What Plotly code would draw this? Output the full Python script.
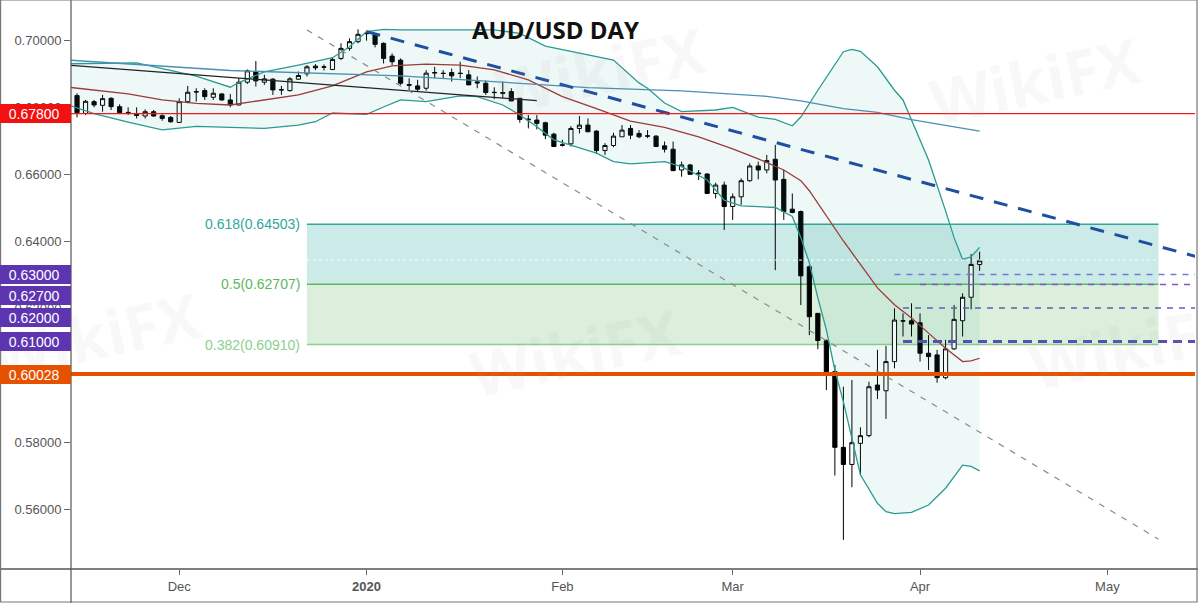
import pandas as pd
import plotly.graph_objects as go

# daily candles, AUD/USD
dates = pd.bdate_range("2019-11-14", "2020-04-10")
opens = [0.6834, 0.6781, 0.6816, 0.6805, 0.6826, 0.6801, 0.6784, 0.6778, 0.6773, 0.6786, 0.6774, 0.6769,
         0.6754, 0.6816, 0.6846, 0.6849, 0.6829, 0.6839, 0.6821, 0.6806, 0.6874, 0.6906, 0.6874, 0.6883,
         0.6852, 0.6849, 0.6883, 0.6899, 0.6922, 0.6920, 0.6912, 0.6945, 0.6975, 0.6995,
         0.7020, 0.7017, 0.6990, 0.6952, 0.6940, 0.6867, 0.6863, 0.6856, 0.6901, 0.6901, 0.6903, 0.6901,
         0.6896, 0.6875, 0.6871, 0.6844, 0.6843, 0.6846, 0.6826, 0.6764, 0.6761, 0.6753, 0.6719,
         0.6687, 0.6690, 0.6736, 0.6746, 0.6728, 0.6670, 0.6685, 0.6711, 0.6736, 0.6721, 0.6714, 0.6713,
         0.6684, 0.6674, 0.6612, 0.6627, 0.6603, 0.6600, 0.6542, 0.6567,
         0.6503, 0.6532, 0.6580, 0.6624, 0.6612, 0.6644, 0.6584, 0.6495, 0.6488, 0.6323, 0.6184, 0.6102,
         0.6010, 0.5784, 0.5733, 0.5796, 0.5819, 0.5970, 0.5953, 0.6040, 0.6162, 0.6162,
         0.6156, 0.6065, 0.6060, 0.5992, 0.6078, 0.6162, 0.6232, 0.6330]
highs = [0.6841, 0.6821, 0.6821, 0.6836, 0.6829, 0.6808, 0.6799, 0.6799, 0.6793, 0.6791, 0.6778, 0.6773,
         0.6826, 0.6863, 0.6856, 0.6856, 0.6856, 0.6841, 0.6839, 0.6886, 0.6912, 0.6937, 0.6896, 0.6886,
         0.6863, 0.6889, 0.6906, 0.6925, 0.6928, 0.6927, 0.6948, 0.6990, 0.7005, 0.7032,
         0.7028, 0.7020, 0.6993, 0.6960, 0.6945, 0.6886, 0.6881, 0.6910, 0.6920, 0.6910, 0.6915, 0.6935,
         0.6910, 0.6891, 0.6879, 0.6859, 0.6876, 0.6856, 0.6826, 0.6776, 0.6776, 0.6756, 0.6723,
         0.6702, 0.6743, 0.6773, 0.6766, 0.6731, 0.6692, 0.6723, 0.6746, 0.6746, 0.6731, 0.6731, 0.6716,
         0.6697, 0.6697, 0.6637, 0.6630, 0.6612, 0.6602, 0.6574, 0.6577,
         0.6542, 0.6587, 0.6632, 0.6637, 0.6657, 0.6687, 0.6612, 0.6542, 0.6491, 0.6328, 0.6184, 0.6106,
         0.6030, 0.5965, 0.5985, 0.5844, 0.5980, 0.6075, 0.6087, 0.6199, 0.6184, 0.6214,
         0.6184, 0.6119, 0.6075, 0.6105, 0.6209, 0.6244, 0.6361, 0.6368]
lows = [0.6769, 0.6776, 0.6799, 0.6786, 0.6791, 0.6779, 0.6776, 0.6766, 0.6766, 0.6771, 0.6759, 0.6753,
        0.6753, 0.6811, 0.6816, 0.6821, 0.6821, 0.6819, 0.6799, 0.6805, 0.6869, 0.6861, 0.6866, 0.6836,
        0.6836, 0.6846, 0.6881, 0.6891, 0.6910, 0.6909, 0.6910, 0.6940, 0.6968, 0.6990,
        0.6998, 0.6978, 0.6930, 0.6925, 0.6866, 0.6849, 0.6846, 0.6849, 0.6886, 0.6886, 0.6876, 0.6886,
        0.6866, 0.6856, 0.6836, 0.6823, 0.6826, 0.6818, 0.6753, 0.6736, 0.6733, 0.6704, 0.6682,
        0.6682, 0.6682, 0.6721, 0.6726, 0.6660, 0.6657, 0.6680, 0.6711, 0.6704, 0.6707, 0.6707, 0.6682,
        0.6664, 0.6610, 0.6592, 0.6599, 0.6582, 0.6542, 0.6527, 0.6433,
        0.6463, 0.6508, 0.6577, 0.6584, 0.6602, 0.6313, 0.6463, 0.6483, 0.6209, 0.6119, 0.6077, 0.5955,
        0.5700, 0.5508, 0.5665, 0.5700, 0.5814, 0.5928, 0.5869, 0.6020, 0.6115, 0.6115,
        0.6040, 0.6015, 0.5977, 0.5987, 0.6075, 0.6115, 0.6196, 0.6311]
closes = [0.6783, 0.6817, 0.6806, 0.6825, 0.6801, 0.6783, 0.6783, 0.6775, 0.6786, 0.6773, 0.6766, 0.6756,
          0.6816, 0.6844, 0.6845, 0.6831, 0.6841, 0.6821, 0.6806, 0.6874, 0.6908, 0.6878, 0.6884, 0.6851,
          0.6851, 0.6884, 0.6894, 0.6920, 0.6917, 0.6919, 0.6942, 0.6975, 0.6995, 0.7017,
          0.7019, 0.6987, 0.6945, 0.6935, 0.6871, 0.6865, 0.6853, 0.6901, 0.6903, 0.6900, 0.6893, 0.6900,
          0.6866, 0.6872, 0.6843, 0.6843, 0.6841, 0.6818, 0.6763, 0.6762, 0.6751, 0.6716, 0.6682,
          0.6686, 0.6736, 0.6746, 0.6726, 0.6670, 0.6685, 0.6713, 0.6731, 0.6716, 0.6711, 0.6713, 0.6682,
          0.6674, 0.6610, 0.6627, 0.6599, 0.6601, 0.6542, 0.6567, 0.6503,
          0.6532, 0.6580, 0.6624, 0.6612, 0.6640, 0.6582, 0.6488, 0.6485, 0.6296, 0.6174, 0.6103, 0.6010,
          0.5784, 0.5733, 0.5798, 0.5819, 0.5965, 0.5955, 0.6040, 0.6164, 0.6161, 0.6152,
          0.6065, 0.6055, 0.5992, 0.6078, 0.6166, 0.6232, 0.6330, 0.6341]

# bollinger bands
upper_dates = ["2019-11-13", "2019-11-25", "2019-12-04", "2019-12-10", "2019-12-11", "2019-12-16",
               "2019-12-20", "2019-12-26", "2019-12-30", "2020-01-01", "2020-01-03", "2020-01-07",
               "2020-01-22", "2020-01-27", "2020-01-30", "2020-02-05", "2020-02-11", "2020-02-14",
               "2020-02-17", "2020-02-19", "2020-02-21", "2020-02-27", "2020-03-02", "2020-03-05",
               "2020-03-09", "2020-03-11", "2020-03-12", "2020-03-16", "2020-03-19", "2020-03-20",
               "2020-03-23", "2020-03-25", "2020-03-27", "2020-03-30", "2020-03-31", "2020-04-02",
               "2020-04-06", "2020-04-07", "2020-04-08", "2020-04-09", "2020-04-10"]
upper_vals = [0.6929, 0.6932, 0.6892, 0.6859, 0.6873, 0.6905, 0.6925, 0.6947, 0.6980, 0.7025, 0.7032,
              0.7030, 0.7030, 0.7020, 0.6982, 0.6960, 0.6940, 0.6872, 0.6856, 0.6812, 0.6786, 0.6791,
              0.6799, 0.6770, 0.6763, 0.6744, 0.6770, 0.6850, 0.6965, 0.6972, 0.6966, 0.6920, 0.6850,
              0.6821, 0.6761, 0.6642, 0.6490, 0.6410, 0.6345, 0.6353, 0.6381]
mid_dates = ["2019-11-13", "2019-11-18", "2019-11-22", "2019-11-28", "2019-12-04", "2019-12-10",
             "2019-12-16", "2019-12-20", "2019-12-26", "2020-01-01", "2020-01-06", "2020-01-10",
             "2020-01-16", "2020-01-22", "2020-01-28", "2020-02-03", "2020-02-07", "2020-02-11",
             "2020-02-13", "2020-02-19", "2020-02-25", "2020-03-02", "2020-03-05", "2020-03-10",
             "2020-03-12", "2020-03-13", "2020-03-17", "2020-03-19", "2020-03-23", "2020-03-25",
             "2020-03-27", "2020-03-31", "2020-04-02", "2020-04-06", "2020-04-08", "2020-04-09",
             "2020-04-10"]
mid_vals = [0.6859, 0.6851, 0.6839, 0.6821, 0.6811, 0.6806, 0.6821, 0.6836, 0.6863, 0.6905, 0.6923,
            0.6928, 0.6925, 0.6911, 0.6881, 0.6831, 0.6795, 0.6777, 0.6758, 0.6739, 0.6711, 0.6675,
            0.6645, 0.6612, 0.6580, 0.6550, 0.6475, 0.6400, 0.6330, 0.6260, 0.6210, 0.6170, 0.6125,
            0.6080, 0.6040, 0.6042, 0.6050]
lower_dates = ["2019-11-13", "2019-11-18", "2019-11-22", "2019-11-28", "2019-12-04", "2019-12-10",
               "2019-12-16", "2019-12-20", "2019-12-24", "2019-12-26", "2020-01-01", "2020-01-03",
               "2020-01-07", "2020-01-10", "2020-01-16", "2020-01-20", "2020-01-23", "2020-01-27",
               "2020-01-29", "2020-01-31", "2020-02-05", "2020-02-07", "2020-02-11", "2020-02-13",
               "2020-02-19", "2020-02-21", "2020-02-26", "2020-02-28", "2020-03-03", "2020-03-09",
               "2020-03-11", "2020-03-12", "2020-03-13", "2020-03-16", "2020-03-17", "2020-03-18",
               "2020-03-19", "2020-03-20", "2020-03-23", "2020-03-25", "2020-03-26", "2020-03-27",
               "2020-03-31", "2020-04-02", "2020-04-06", "2020-04-08", "2020-04-09", "2020-04-10"]
lower_vals = [0.6806, 0.6780, 0.6755, 0.6732, 0.6742, 0.6739, 0.6736, 0.6746, 0.6756, 0.6782, 0.6778,
              0.6800, 0.6821, 0.6816, 0.6833, 0.6831, 0.6806, 0.6776, 0.6741, 0.6702, 0.6677, 0.6662,
              0.6637, 0.6630, 0.6637, 0.6622, 0.6582, 0.6522, 0.6505, 0.6500, 0.6473, 0.6410, 0.6335,
              0.6230, 0.6135, 0.6015, 0.5920, 0.5815, 0.5702, 0.5617, 0.5592, 0.5586, 0.5590, 0.5612,
              0.5662, 0.5731, 0.5727, 0.5714]

# long moving average
ma_dates = ["2019-11-13", "2019-12-10", "2020-01-07", "2020-02-06", "2020-02-21", "2020-03-06",
            "2020-03-12", "2020-03-19", "2020-03-25", "2020-03-31", "2020-04-10"]
ma_vals = [0.6940, 0.6909, 0.6893, 0.6858, 0.6848, 0.6832, 0.6818, 0.6795, 0.6784, 0.6762, 0.6728]

# drawn trendlines (two end points each)
black_line_dates = ["2019-11-13", "2020-01-29"]
black_line_vals = [0.6925, 0.6819]
grey_line_dates = ["2019-12-23", "2020-05-11"]
grey_line_vals = [0.7030, 0.5510]
blue_line_dates = ["2020-01-01", "2020-05-18"]
blue_line_vals = [0.7025, 0.6336]

# fibonacci retracement
fib_start, fib_end = "2019-12-23", "2020-05-11"
fib_ratios = ["0.618", "0.5", "0.382"]
fib_levels = [0.64503, 0.62707, 0.60910]
last_close = 0.6343

# horizontal levels
red_level = 0.678
orange_level = 0.60028
dash_levels = [0.630, 0.627, 0.620, 0.610]
dash_starts = ["2020-03-27", "2020-04-01", "2020-03-30", "2020-03-30"]

# price tags on the axis
tag_vals = [0.678, 0.630, 0.627, 0.620, 0.610, 0.60028]
tag_text = ["0.67800", "0.63000", "0.62700", "0.62000", "0.61000", "0.60028"]

tick_dates = ["2019-12-02", "2020-01-01", "2020-02-03", "2020-03-02", "2020-04-01", "2020-05-01"]
tick_text = ["Dec", "<b>2020</b>", "Feb", "Mar", "Apr", "May"]

W, H = 1198 - 71 - 3, 603 - 34
FONT = "Liberation Sans, Arial, sans-serif"

fig = go.Figure()

# bands
fig.add_trace(go.Scatter(x=upper_dates, y=upper_vals, mode="lines",
                         line=dict(color="#2a9a94", width=1.3), hoverinfo="skip"))
fig.add_trace(go.Scatter(x=lower_dates, y=lower_vals, mode="lines", fill="tonexty",
                         fillcolor="rgba(38,166,154,0.08)",
                         line=dict(color="#2a9a94", width=1.3), hoverinfo="skip"))
fig.add_trace(go.Scatter(x=mid_dates, y=mid_vals, mode="lines",
                         line=dict(color="#9a3a3a", width=1.3), hoverinfo="skip"))
fig.add_trace(go.Scatter(x=ma_dates, y=ma_vals, mode="lines",
                         line=dict(color="#4a8fb5", width=1.3), hoverinfo="skip"))

# trendlines
fig.add_trace(go.Scatter(x=black_line_dates, y=black_line_vals, mode="lines",
                         line=dict(color="#222222", width=1.3), hoverinfo="skip"))
fig.add_trace(go.Scatter(x=grey_line_dates, y=grey_line_vals, mode="lines",
                         line=dict(color="#8a8a8a", width=1.2, dash="6px,7px"), hoverinfo="skip"))
fig.add_trace(go.Scatter(x=blue_line_dates, y=blue_line_vals, mode="lines",
                         line=dict(color="#1f4fa0", width=3, dash="14px,11px"), hoverinfo="skip"))

fig.add_trace(go.Candlestick(
    x=dates, open=opens, high=highs, low=lows, close=closes,
    increasing=dict(line=dict(color="black", width=1), fillcolor="white"),
    decreasing=dict(line=dict(color="black", width=1), fillcolor="black"),
    whiskerwidth=0, hoverinfo="skip"))

# fib zones
fib_fill = ["rgba(0,150,136,0.2)", "rgba(76,175,80,0.2)"]
fib_line_col = ["#31a79c", "#5cb860", "#8ccf8f"]
for i in range(2):
    fig.add_shape(type="rect", xref="x", yref="y", x0=fib_start, x1=fib_end,
                  y0=fib_levels[i + 1], y1=fib_levels[i], fillcolor=fib_fill[i],
                  line=dict(width=0), layer="below")
for r, lv, c in zip(fib_ratios, fib_levels, fib_line_col):
    fig.add_shape(type="line", xref="x", yref="y", x0=fib_start, x1=fib_end, y0=lv, y1=lv,
                  line=dict(color=c, width=1.5), layer="below")
    fig.add_annotation(x=fib_start, y=lv, xref="x", yref="y", xanchor="right", xshift=-5,
                       text=f"{r}({lv:.5f})", showarrow=False,
                       font=dict(family=FONT, size=14, color=c))
fig.add_shape(type="line", xref="x", yref="y", x0=fib_start, x1="2020-05-20",
              y0=last_close, y1=last_close, line=dict(color="white", width=1, dash="dot"))

# level lines
fig.add_shape(type="line", xref="paper", yref="y", x0=0, x1=1, y0=red_level, y1=red_level,
              line=dict(color="#ee1c1c", width=1.2))
fig.add_shape(type="line", xref="paper", yref="y", x0=0, x1=1, y0=orange_level, y1=orange_level,
              line=dict(color="#e65100", width=4))
dash_cols = ["#6f7fd0", "#7b5cc4", "#5f5fc0", "#5a4fb0"]
dash_w = [1.5, 1.5, 1.5, 3]
for lv, st, c, w in zip(dash_levels, dash_starts, dash_cols, dash_w):
    fig.add_shape(type="line", xref="x", yref="y", x0=st, x1="2020-05-20", y0=lv, y1=lv,
                  line=dict(color=c, width=w, dash="%dpx,%dpx" % (6 + 3 * (w > 2), 6)))

# faint watermarks
for px, py in [(575, 352), (-20, 335), (1250, 345), (600, 5), (1150, 15)]:
    fig.add_annotation(xref="paper", yref="paper", x=(px - 71) / W, y=(H - py) / H,
                       text="<b>WikiFX</b>", showarrow=False, textangle=-12,
                       font=dict(family="Open Sans, sans-serif", size=62,
                                 color="rgba(170,170,170,0.08)"))

# price tags over the axis
tag_cols = ["#f21010", "#5e35b1", "#5e35b1", "#5e35b1", "#5e35b1", "#e65100"]
tag_nudge = [0, 0, -11, -9, 0, 0]
for v, t, c, s in zip(tag_vals, tag_text, tag_cols, tag_nudge):
    fig.add_annotation(xref="paper", x=0, xanchor="right", yref="y", y=v, yanchor="middle",
                       yshift=s, text=t + "&nbsp;&nbsp;&nbsp;", showarrow=False, align="right",
                       width=71, height=19, bgcolor=c, borderpad=0, borderwidth=0,
                       font=dict(family=FONT, size=14, color="white"))

# title
fig.add_annotation(xref="paper", yref="paper", x=(555 - 71) / W, y=1 - 30 / H,
                   yanchor="middle", text="<b>AUD/USD DAY</b>", showarrow=False,
                   font=dict(family="Open Sans, sans-serif", size=24, color="#111111"))

# frame
fig.add_shape(type="line", xref="paper", yref="paper", x0=-71 / W, x1=1 + 3 / W, y0=0, y1=0,
              line=dict(color="#555", width=1.5))
fig.add_shape(type="line", xref="paper", yref="paper", x0=0, x1=0, y0=-34 / H, y1=1,
              line=dict(color="#555", width=1.2))
fig.add_shape(type="rect", xref="paper", yref="paper", x0=-71 / W + 0.0005, x1=1 + 2 / W,
              y0=-33 / H, y1=1, line=dict(color="#777", width=1.2))

fig.update_layout(
    width=1198, height=603,
    margin=dict(l=71, r=3, t=0, b=34, autoexpand=False),
    plot_bgcolor="white", paper_bgcolor="white",
    showlegend=False, hovermode=False,
    font=dict(family=FONT, size=13, color="#555"),
    xaxis=dict(type="date", range=["2019-11-13 07:00", "2020-05-15 07:00"],
               rangebreaks=[dict(bounds=["sat", "mon"])],
               rangeslider=dict(visible=False), automargin=False,
               showgrid=False, zeroline=False, showline=False,
               tickvals=tick_dates, ticktext=tick_text,
               ticks="outside", ticklen=5, tickcolor="#666",
               tickfont=dict(family=FONT, size=13, color="#555")),
    yaxis=dict(range=[0.54209, 0.71194], dtick=0.02, tick0=0.56, tickformat=".5f",
               automargin=False,
               showgrid=False, zeroline=False, showline=False,
               ticks="outside", ticklen=6, tickcolor="#666",
               tickfont=dict(family=FONT, size=13, color="#555")),
)

# the page body has a default 8px margin; drop it so the chart sits at the corner
fig.write_html("out.html", config={"displayModeBar": False},
               post_script="document.body.style.margin='0';document.body.style.overflow='hidden';")
